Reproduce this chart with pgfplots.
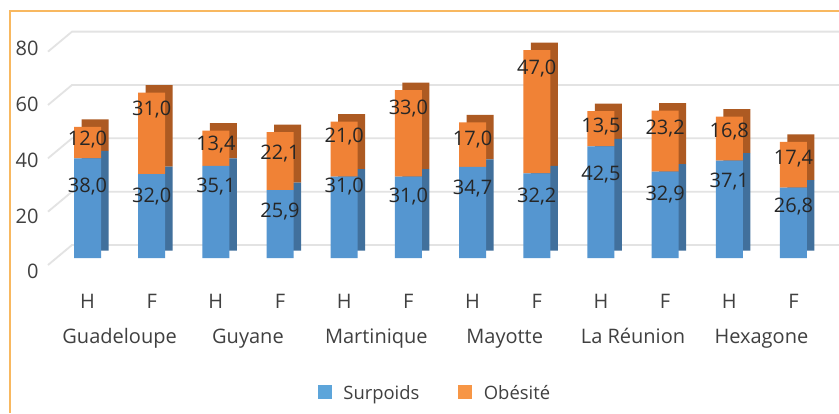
\documentclass[border=0pt]{standalone}
\usepackage{fontspec}
\setmainfont{Open Sans}
\usepackage{pgfplots}
\pgfplotsset{compat=1.18}
\usepackage{pgfplotstable}

\definecolor{blueF}{HTML}{5596D0}
\definecolor{blueS}{HTML}{41709C}
\definecolor{orangeF}{HTML}{F08236}
\definecolor{orangeS}{HTML}{AD5A22}
\definecolor{legblue}{HTML}{5DA5DA}
\definecolor{legorange}{HTML}{F79646}
\definecolor{gridc}{HTML}{E3E3E3}
\definecolor{framec}{HTML}{F8B860}
\definecolor{axc}{HTML}{404040}
\definecolor{labc}{HTML}{262626}

% x: bar index, s: surpoids, o: obesite, ls/lo: height of the value labels
\pgfplotstableread{
x s    o    ls   lo
0 38.0 12.0 27.8 45.7
1 32.0 31.0 24.0 57.1
2 35.1 13.4 27.8 43.8
3 25.9 22.1 18.3 40.4
4 31.0 21.0 27.8 46.9
5 31.0 33.0 24.0 57.5
6 34.7 17.0 27.0 45.7
7 32.2 47.0 24.0 72.8
8 42.5 13.5 32.4 50.7
9 32.9 23.2 24.8 49.9
10 37.1 16.8 29.7 48.8
11 26.8 17.4 20.2 38.5
}\data

\pgfplotsset{
  base/.style={scale only axis, width=417.17pt, height=105pt,
    xmin=-1, xmax=12, ymin=0, ymax=80, anchor=south west, clip=false},
  bars/.style={base, ybar stacked, bar width=13.5pt, hide axis},
}

\begin{document}
\begin{tikzpicture}
\useasboundingbox (0,0) rectangle (419.5pt,206.5pt);
\fill[white] (0,0) rectangle (419.5pt,206.5pt);
\draw[framec, line width=0.7pt] (5pt,0pt) -- (5pt,201pt) -- (419.5pt,201pt);

% back wall grid lines with the floor diagonal
\foreach \v in {0,20,40,60,80}{
  \pgfmathsetmacro\fy{(413-265+2.667*\v)*0.5}
  \draw[gridc, line width=0.9pt] (24pt,{\fy pt}) -- (36pt,{\fy pt+10pt}) -- (419.5pt,{\fy pt+10pt});
}

% side and top faces
\begin{axis}[bars, at={(15.41pt,81.25pt)}]
\addplot[fill=blueS, draw=none] table[x=x, y=s] {\data};
\addplot[fill=orangeS, draw=none] table[x=x, y=o] {\data};
\end{axis}

% front faces
\begin{axis}[bars, at={(11.66pt,77.5pt)},
  legend style={at={(0.4946,-0.6476)}, anchor=center, draw=none, fill=none,
    legend columns=2, inner sep=0pt, text=axc, font=\fontsize{9.2}{11}\selectfont,
    /tikz/every even column/.append style={column sep=17.5pt}},
  legend image code/.code={\fill[#1] (0pt,-2.5pt) rectangle (7pt,4.5pt);
    \path (10.75pt,0pt);},
]
\addplot[fill=blueF, draw=none, forget plot] table[x=x, y=s] {\data};
\addplot[fill=orangeF, draw=none, forget plot] table[x=x, y=o] {\data};
\addlegendimage{fill=legblue, draw=none}
\addlegendentry{Surpoids}
\addlegendimage{fill=legorange, draw=none}
\addlegendentry{Obésité}
\end{axis}

% value labels and category labels
\begin{axis}[base, at={(11.66pt,77.5pt)},
  axis line style={draw=none}, major tick style={draw=none},
  ytick=\empty,
  xtick={0,...,11},
  xticklabels={H,F,H,F,H,F,H,F,H,F,H,F},
  xticklabel style={anchor=base, yshift=-25pt, text=axc},
  extra x ticks={0.5,2.5,4.5,6.5,8.5,10.5},
  extra x tick labels={Guadeloupe,Guyane,Martinique,Mayotte,La Réunion,Hexagone},
  extra x tick style={xticklabel style={yshift=-17.5pt}},
  /pgf/number format/.cd, fixed, fixed zerofill, precision=1, use comma, assume math mode=true,
  /pgfplots/.cd,
  every node near coord/.append style={anchor=base, yshift=-3.6pt, text=labc},
]
\addplot[only marks, mark=none, nodes near coords, point meta=explicit]
  table[x=x, y=ls, meta=s] {\data};
\addplot[only marks, mark=none, nodes near coords, point meta=explicit]
  table[x=x, y=lo, meta=o] {\data};
\end{axis}

% y tick labels, set along the slanted front edge
\begin{axis}[scale only axis, width=10pt, height=111.4pt, at={(19.5pt,70.7pt)},
  anchor=south west, ymin=0, ymax=80, xmin=0, xmax=1,
  xtick=\empty, ytick={0,20,...,80},
  axis line style={draw=none}, major tick style={draw=none},
  yticklabel style={anchor=east, inner sep=0pt, text=axc},
  /pgf/number format/assume math mode=true]
\addplot[draw=none] coordinates {(0,0)};
\end{axis}
\end{tikzpicture}
\end{document}
